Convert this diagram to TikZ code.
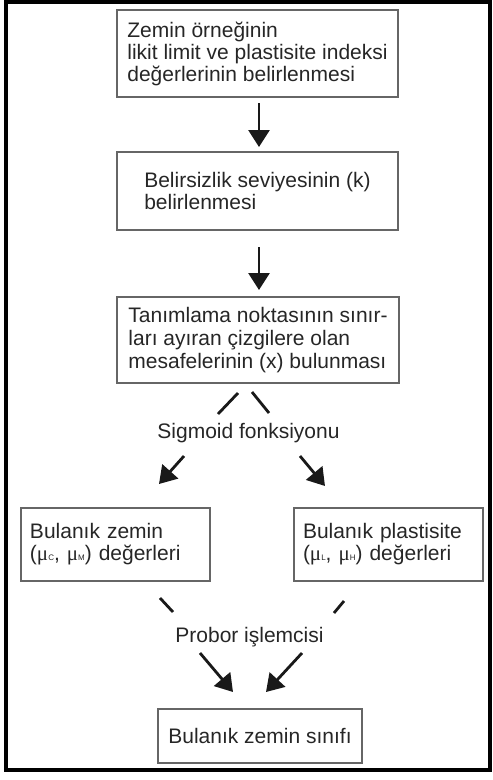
\documentclass[tikz,border=0pt]{standalone}
\usepackage{fontspec}
\setmainfont{Liberation Sans}
\newfontfamily\mufont{Liberation Serif}
\usetikzlibrary{arrows.meta}
\newcommand{\muc}[1]{{\mufont μ}{\fontsize{8}{8}\selectfont #1}}
\begin{document}
\begin{tikzpicture}[y=1pt, x=1pt, yscale=-1, inner sep=0pt, outer sep=0pt,
  box/.style={draw=black!60, line width=1.2pt, text=black!85, align=left,
    font=\fontsize{21}{22}\selectfont},
  lbl/.style={text=black!85, font=\fontsize{21}{22}\selectfont},
  tick/.style={draw=black!90, line width=2.8pt},
  bigarrow/.style={draw=black!90, line width=2.8pt,
    -{Triangle[width=21pt,length=17pt]}}]
  \useasboundingbox (0,0) rectangle (493,780);
  \path[draw=black, line width=4.5pt] (6,2) rectangle (490,770);
  \path (257.5,53.5) node[box, minimum width=281pt, minimum height=87pt]
    (zemin) {Zemin örneğinin\\likit limit ve plastisite indeksi\\değerlerinin belirlenmesi};
  \path (257.5,191) node[box, minimum width=281pt, minimum height=78pt]
    (belirsiz) {Belirsizlik seviyesinin (k)\\belirlenmesi};
  \path (258,340) node[box, minimum width=282pt, minimum height=86pt,
    font=\fontsize{21}{23}\selectfont]
    (mesafe) {Tanımlama noktasının sınır-\\ları ayıran çizgilere olan\\mesafelerinin (x) bulunması};
  \path (248.5,433) node[lbl] (sigmoid) {Sigmoid fonksiyonu};
  \path (115.5,544.5) node[box, text width=171pt, inner xsep=9pt, minimum height=73pt]
    (bzemin) {Bulanık zemin\\(\muc{C}, \muc{M}) değerleri};
  \path (388.5,544.5) node[box, text width=171pt, inner xsep=9pt, minimum height=73pt]
    (bplast) {Bulanık plastisite\\(\muc{L}, \muc{H}) değerleri};
  \path (249.5,637) node[lbl] (probor) {Probor işlemcisi};
  \path (260,736) node[box, minimum width=204pt, minimum height=54pt]
    (sinif) {Bulanık zemin sınıfı};
  \coordinate (sl1) at (238,393);
  \coordinate (sl2) at (218,414);
  \coordinate (sr1) at (252,392);
  \coordinate (sr2) at (269,413);
  \coordinate (al1) at (184,456);
  \coordinate (al2) at (159,484);
  \coordinate (ar1) at (300,456);
  \coordinate (ar2) at (325,486);
  \coordinate (pl1) at (160,598);
  \coordinate (pl2) at (173,612);
  \coordinate (pr1) at (344,601);
  \coordinate (pr2) at (334,613);
  \coordinate (bl1) at (200,653);
  \coordinate (bl2) at (233,692);
  \coordinate (br1) at (302,653);
  \coordinate (br2) at (266,692);
  \draw[bigarrow, shorten <=6pt, shorten >=5pt] ([xshift=1.5pt]zemin.south) -- ([xshift=1.5pt]belirsiz.north);
  \draw[bigarrow, shorten <=17pt, shorten >=7pt] ([xshift=1.5pt]belirsiz.south) -- ([xshift=1pt]mesafe.north);
  \draw[tick] (sl1) -- (sl2);
  \draw[tick] (sr1) -- (sr2);
  \draw[bigarrow] (al1) -- (al2);
  \draw[bigarrow] (ar1) -- (ar2);
  \draw[tick] (pl1) -- (pl2);
  \draw[tick] (pr1) -- (pr2);
  \draw[bigarrow] (bl1) -- (bl2);
  \draw[bigarrow] (br1) -- (br2);
\end{tikzpicture}
\end{document}
